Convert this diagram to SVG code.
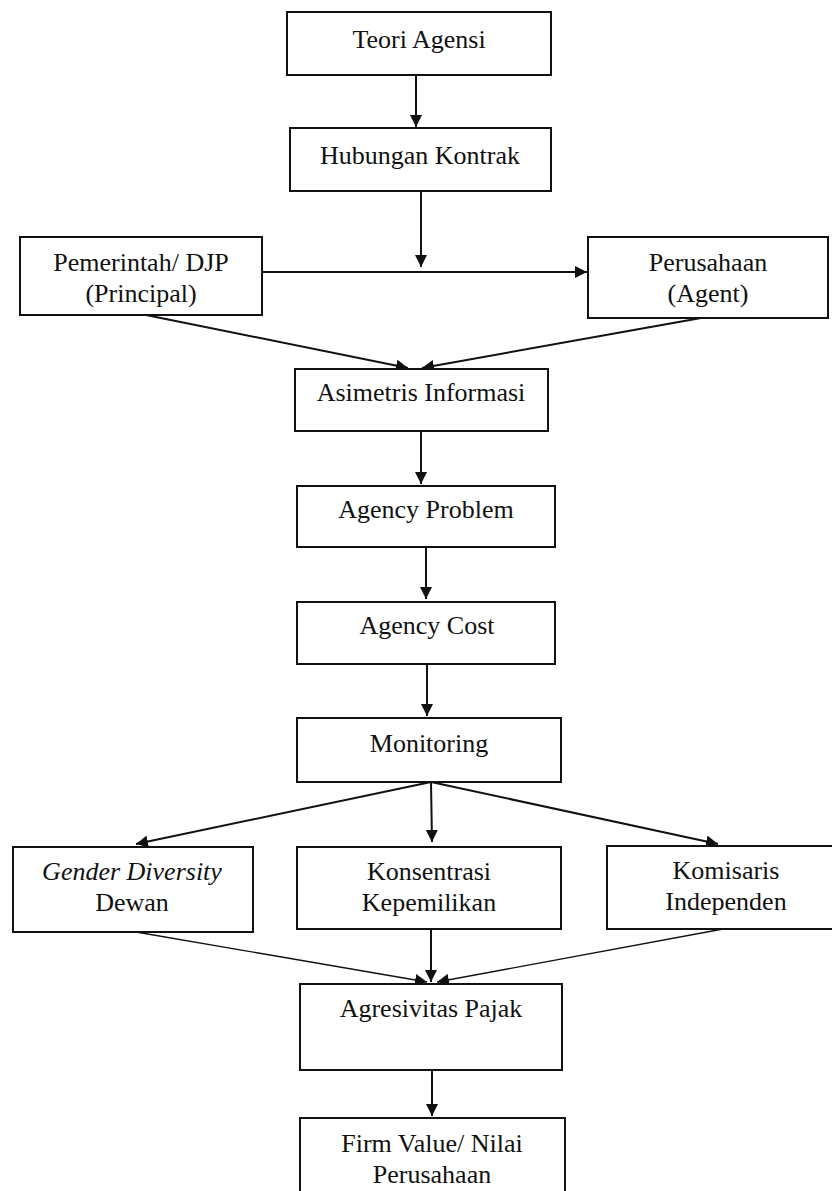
<svg xmlns="http://www.w3.org/2000/svg" width="832" height="1191" viewBox="0 0 832 1191">
<defs>
<style>
.box{fill:#fff;stroke:#111;stroke-width:2}
.t{font-family:"Liberation Serif","Times New Roman",serif;font-size:26px;fill:#111;text-anchor:middle}
.c{stroke:#111;stroke-width:2;fill:none}
.thin{stroke:#111;stroke-width:1.3;fill:none}
</style>
<marker id="ah" markerUnits="userSpaceOnUse" markerWidth="14" markerHeight="12" refX="12" refY="6" orient="auto">
<path d="M0,0 L12,6 L0,12 Z" fill="#111"/>
</marker>
</defs>
<rect width="832" height="1191" fill="#fff"/>
<g id="connectors">
<line class="c" x1="416" y1="75" x2="416" y2="127" marker-end="url(#ah)"/>
<line class="c" x1="421" y1="191" x2="421" y2="267" marker-end="url(#ah)"/>
<line class="c" x1="262" y1="272" x2="587" y2="272" marker-end="url(#ah)"/>
<line class="c" x1="141" y1="314" x2="408" y2="368" marker-end="url(#ah)"/>
<line class="c" x1="701" y1="318" x2="422" y2="368" marker-end="url(#ah)"/>
<line class="c" x1="421" y1="431" x2="421" y2="484" marker-end="url(#ah)"/>
<line class="c" x1="426" y1="547" x2="426" y2="599" marker-end="url(#ah)"/>
<line class="c" x1="427" y1="664" x2="427" y2="716" marker-end="url(#ah)"/>
<line class="c" x1="431" y1="782" x2="136" y2="844" marker-end="url(#ah)"/>
<line class="c" x1="431" y1="782" x2="432" y2="842" marker-end="url(#ah)"/>
<line class="c" x1="431" y1="782" x2="718" y2="844" marker-end="url(#ah)"/>
<line class="thin" x1="136" y1="932" x2="427" y2="982" marker-end="url(#ah)"/>
<line class="c" x1="431" y1="929" x2="431" y2="982" marker-end="url(#ah)"/>
<line class="thin" x1="723" y1="929" x2="437" y2="982" marker-end="url(#ah)"/>
<line class="c" x1="432" y1="1070" x2="432" y2="1116" marker-end="url(#ah)"/>
</g>
<g id="teori"><rect class="box" x="287" y="12" width="264" height="63"/><text class="t" x="419" y="48">Teori Agensi</text></g>
<g id="hubungan"><rect class="box" x="290" y="128" width="261" height="63"/><text class="t" x="420" y="164">Hubungan Kontrak</text></g>
<g id="pemerintah"><rect class="box" x="20" y="237" width="242" height="78"/><text class="t" x="141" y="271">Pemerintah/ DJP</text><text class="t" x="141" y="302">(Principal)</text></g>
<g id="perusahaan"><rect class="box" x="588" y="237" width="240" height="81"/><text class="t" x="708" y="271">Perusahaan</text><text class="t" x="708" y="302">(Agent)</text></g>
<g id="asimetris"><rect class="box" x="295" y="369" width="253" height="62"/><text class="t" x="421" y="401">Asimetris Informasi</text></g>
<g id="problem"><rect class="box" x="297" y="486" width="258" height="61"/><text class="t" x="426" y="518">Agency Problem</text></g>
<g id="cost"><rect class="box" x="297" y="602" width="258" height="62"/><text class="t" x="427" y="634">Agency Cost</text></g>
<g id="monitoring"><rect class="box" x="297" y="718" width="264" height="64"/><text class="t" x="429" y="752">Monitoring</text></g>
<g id="gender"><rect class="box" x="13" y="847" width="240" height="85"/><text class="t" x="132" y="880"><tspan font-style="italic">Gender Diversity</tspan></text><text class="t" x="132" y="911">Dewan</text></g>
<g id="konsentrasi"><rect class="box" x="297" y="847" width="264" height="82"/><text class="t" x="429" y="880">Konsentrasi</text><text class="t" x="429" y="911">Kepemilikan</text></g>
<g id="komisaris"><rect class="box" x="607" y="846" width="228" height="83"/><text class="t" x="726" y="879">Komisaris</text><text class="t" x="726" y="910">Independen</text></g>
<g id="agresivitas"><rect class="box" x="300" y="984" width="262" height="86"/><text class="t" x="431" y="1017">Agresivitas Pajak</text></g>
<g id="firmvalue"><rect class="box" x="300" y="1118" width="265" height="80"/><text class="t" x="432" y="1152">Firm Value/ Nilai</text><text class="t" x="432" y="1183">Perusahaan</text></g>
</svg>
